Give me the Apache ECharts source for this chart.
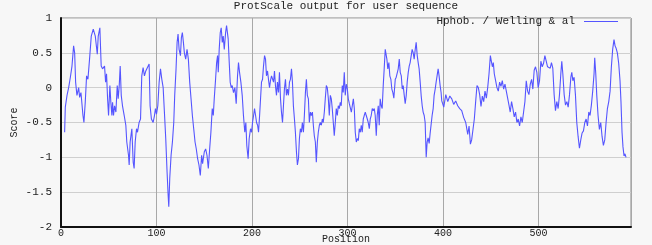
<!DOCTYPE html>
<html>
<head>
<meta charset="utf-8">
<script src="https://cdn.jsdelivr.net/npm/echarts@6/dist/echarts.min.js"></script>
<style>
html,body{margin:0;padding:0;background:#f7f7f7;}
#c{width:652px;height:245px;}
</style>
</head>
<body>
<div id="c"></div>
<script>
const chartTitle = 'ProtScale output for user sequence';
const seriesName = 'Hphob. / Welling & al';
const xTicks = [0, 100, 200, 300, 400, 500];
const yTicks = [-2, -1.5, -1, -0.5, 0, 0.5, 1];

const positions = [
3.8,4.5,6.3,8.0,9.8,11.5,13.2,14.3,15.3,16.7,18.5,19.5,20.9,23,24,25.4,26.8,28.2,29.9,31.7,33.8,35.9,38,39,40.7,42.1,43.5,45.6,46.7,
47.7,48.8,49.8,51.2,52.2,53.3,54,55,56.1,57.5,58.9,59.9,61,62,63.1,64.4,66.2,67.9,68.9,70.7,71.4,72.4,74.2,75.6,76.6,77.7,79.1,80.1,81.8,83.3,84.6,86,87.4,88.8,90.6,92.3,93.3,94.7,96.5,97.9,
98.9,100,101.4,102.8,104.2,105.6,107,108.3,109.7,111.1,112.2,112.9,113.9,115.3,116.7,118.1,119.1,120.5,121.6,122.6,123.7,125.1,126.1,127.1,128.2,129.2,130.6,132,133.4,134.8,136.2,137.6,139,140.4,141.7,143.1,144.5,145.9,147.3,
148.3,150.1,151.5,152.9,154.3,155.7,157,158.4,159.5,160.5,161.9,163,164,164.7,165.7,166.8,167.8,168.9,169.9,171,172.4,173.4,174.4,175.1,176.2,177.2,178.3,179.3,180.7,182.1,183.5,184.9,185.9,187,188.4,189.8,191.1,192.5,193.6,194.6,196,197.1,
198.5,199.6,200.6,201.7,202.7,203.8,204.8,205.9,206.9,208,209,210,211.1,212.1,213.2,214.2,215.2,216.3,217.3,218.4,219.4,220.5,221.5,222.6,223.6,224.6,225.7,226.7,227.8,228.8,229.9,230.9,232,233,234,235.1,236.1,237.2,238.2,239.3,240.3,241.4,242.4,243.4,244.5,245.5,246.6,247.6,248.7,
249.7,250.7,251.8,252.8,253.9,254.9,256,257,258,259.1,260.1,261.2,262.2,263.3,264.3,265.3,266.4,267.4,268.5,269.5,270.6,271.6,272.7,273.7,274.7,275.8,276.8,277.9,278.9,280,281,282.1,283.1,284.1,285.2,286.2,287.3,288.3,289.4,290.4,291.5,292.5,293.5,294.6,295.6,296.7,297.7,
298.8,299.9,300.9,302,303,304.1,305.1,306.2,307.2,308.2,309.3,310.3,311.4,312.4,313.5,314.5,315.5,316.6,317.6,318.7,319.7,320.8,321.8,322.9,323.9,324.9,326,327,328.1,329.1,330.2,331.2,332.3,333.3,334.3,335.4,336.4,337.5,338.5,339.6,340.3,341.3,342.3,343.4,344.4,345.5,346.5,347.6,
348.6,350.1,351.1,352.2,353.2,354.3,355.3,356.4,357.4,358.4,359.5,360.5,361.6,362.6,363.7,364.7,365.7,366.8,367.8,368.9,369.9,371,372,373.1,374.1,375.1,376.2,377.2,378.3,379.3,380.4,381.4,382.5,383.5,384.5,385.6,386.6,387.7,388.7,389.8,390.8,391.9,392.9,393.9,395,396,397.1,398.1,
398.8,400.9,403,405.1,407.2,409.3,411.3,413.4,415.5,417.6,419.7,421.8,423.9,426,427.4,428.8,430.1,431.5,432.9,434.3,435.7,437.1,438.5,439.9,441.3,442.7,444.1,445.5,446.9,448.3,449.7,450.7,451.8,452.8,453.8,455.2,456.6,458,459.4,460.8,462.2,463.6,465,466.4,467.8,469.2,470.5,471.9,473.3,474.7,476.1,477.5,478.9,480.3,481.7,483.1,484.5,485.9,487.3,488.7,490.1,491.5,492.9,494.2,495.6,497,498.4,499.8,501.2,502.6,504,505.4,506.8,508.2,509.6,511,512.4,513.7,515.1,516.5,517.9,519.3,520.7,522.1,523.5,524.5,525.6,527,528.4,529.8,531.2,532.6,534,535,536.1,537.4,538.8,540.2,541.6,543,544.4,545.8,547.2,548.6,550,551.4,552.8,554.1,555.5,556.9,558.3,559,560.1,561.1,562.5,563.9,565.3,566.7,568.1,569.5,570.9,572.3,573.7,575.1,576.4,577.8,579.2,580.3,581.3,582.7,584.1,585.5,586.5,587.6,588.6,589.7,590.7,591.8
];

const scores = [
-0.64,-0.28,-0.11,0,0.15,0.31,0.6,0.5,0.08,-0.11,0,-0.14,-0.07,-0.4,-0.5,-0.21,0.17,0.12,0.41,0.74,0.84,0.74,0.48,0.74,0.86,0.31,0.27,0.31,0.08,
0.2,-0.16,-0.4,0.03,-0.21,-0.4,-0.21,-0.4,-0.26,-0.35,0.03,-0.16,0.03,0.31,-0.11,-0.26,-0.4,-0.54,-0.78,-0.97,-1.11,-0.78,-0.59,-1.07,-1.16,-0.78,-0.59,-0.64,-0.5,-0.45,0.17,0.29,0.17,0.24,0.22,0.34,-0.26,-0.45,-0.5,-0.4,
-0.3,-0.38,-0.26,0.08,0.27,0.12,0,-0.35,-0.73,-1.21,-1.54,-1.71,-1.3,-0.97,-0.78,-0.5,-0.11,0.27,0.65,0.77,0.55,0.46,0.72,0.79,0.65,0.5,0.41,0.55,0.41,0.08,-0.16,-0.4,-0.59,-0.78,-0.88,-1.02,-1.11,-1.26,-0.97,
-1.09,-0.92,-0.88,-0.97,-1.16,-0.88,-0.64,-0.3,-0.4,-0.16,0.12,0.36,0.46,0.22,0.55,0.79,0.86,0.65,0.74,0.55,0.79,0.89,0.91,0.7,0.36,0.08,0,0.03,-0.07,0,-0.23,0.17,0.36,0.22,0.08,-0.11,-0.4,-0.64,-0.5,-0.83,-1.02,-0.73,
-0.59,-0.64,-0.5,-0.4,-0.3,-0.4,-0.5,-0.54,-0.64,-0.4,-0.16,0.08,0.12,0.31,0.46,0.41,0.17,0.24,0.12,0,0.1,0.17,0.19,0.08,0.24,0.03,-0.11,0.08,-0.07,0.22,-0.16,-0.35,-0.5,-0.26,-0.02,0.12,-0.11,-0.02,-0.11,0.08,0.12,0.27,0.08,-0.26,-0.45,-0.64,-0.92,-1.11,-1.02,
-0.73,-0.59,-0.64,-0.5,-0.64,-0.4,-0.07,0.12,-0.11,-0.16,-0.5,-0.35,-0.4,-0.35,-0.54,-0.69,-0.78,-1.07,-0.78,-0.64,-0.54,-0.5,-0.54,-0.45,-0.5,-0.35,-0.16,0.03,0,-0.16,-0.4,-0.11,-0.16,-0.3,-0.5,-0.69,-0.5,-0.3,-0.4,-0.26,-0.3,-0.21,-0.26,0.03,-0.07,0.22,-0.11,
0.05,-0.02,-0.16,-0.23,-0.21,-0.35,-0.26,-0.16,-0.3,-0.64,-0.78,-0.73,-0.76,-0.59,-0.64,-0.54,-0.64,-0.45,-0.4,-0.35,-0.4,-0.45,-0.5,-0.59,-0.45,-0.4,-0.3,-0.33,-0.3,-0.4,-0.69,-0.4,-0.26,-0.54,-0.16,-0.26,-0.3,0.03,0.27,0.55,0.55,0.41,0.27,0.36,0.17,0.12,-0.02,-0.07,
-0.15,0.12,0.15,0.17,0.27,0.41,0.22,0.17,-0.02,0.03,-0.11,-0.23,-0.11,0.08,0.22,0.31,0.36,0.46,0.55,0.5,0.41,0.55,0.65,0.46,0.36,0.27,0.08,-0.11,-0.26,-0.35,-0.4,-0.5,-1.0,-0.78,-0.72,-0.8,-0.66,-0.64,-0.4,-0.3,-0.11,-0.02,0.08,0.17,0.27,0.17,0.03,-0.07,
-0.19,-0.28,-0.1,-0.2,-0.12,-0.16,-0.24,-0.19,-0.26,-0.3,-0.33,-0.43,-0.5,-0.67,-0.55,-0.81,-0.75,-0.6,-0.45,-0.2,0.03,0,-0.1,-0.27,-0.12,-0.2,-0.05,-0.15,0,0.2,0.46,0.38,0.3,0.36,0.2,0.1,0,-0.05,0.08,0.02,0.1,-0.02,0.05,-0.05,-0.15,-0.25,-0.35,-0.2,-0.3,-0.42,-0.35,-0.5,-0.45,-0.55,-0.42,-0.5,-0.35,-0.2,0.1,-0.05,-0.1,0.05,0.12,-0.02,0.25,0.3,0.22,0,0.1,0.38,0.3,0.35,0.46,0.38,0.3,0.32,0.28,0.36,0.28,-0.1,-0.33,-0.2,-0.3,-0.1,0.2,0.38,0.2,-0.1,-0.25,-0.2,-0.28,-0.1,0.15,0.22,0.1,0.15,-0.1,-0.5,-0.7,-0.87,-0.75,-0.65,-0.62,-0.5,-0.45,-0.55,-0.35,-0.4,-0.25,-0.05,0.2,0.43,0.2,-0.1,-0.4,-0.6,-0.5,-0.7,-0.83,-0.75,-0.5,-0.3,-0.2,-0.05,0.29,0.55,0.69,0.6,0.57,0.5,0.35,0.1,-0.2,-0.64,-0.85,-0.98,-0.95,-1.0
];

const FONT = 'Liberation Mono';
const chart = echarts.init(document.getElementById('c'), null, {renderer: 'canvas'});
const option = {
  animation: false,
  backgroundColor: '#f7f7f7',
  title: {
    text: chartTitle,
    left: 346, top: 1, textAlign: 'center', padding: 0,
    textStyle: {fontFamily: FONT, fontSize: 11, fontWeight: 'normal', color: '#222'}
  },
  legend: {
    right: 34, top: 16, padding: 0,
    align: 'right',
    icon: 'rect', itemWidth: 34, itemHeight: 1, itemGap: 9,
    textStyle: {fontFamily: FONT, fontSize: 11, color: '#222', padding: [0, 4, 0, 0]},
    data: [seriesName]
  },
  grid: {left: 61, right: 21, top: 18, bottom: 18, outerBoundsMode: 'none', containLabel: false,
    show: true, borderColor: '#888', borderWidth: 1, backgroundColor: 'transparent'},
  xAxis: {
    type: 'value', min: 0, max: 597, interval: 100,
    name: 'Position', nameLocation: 'middle', nameGap: 7, nameMoveOverlap: false,
    nameTextStyle: {fontFamily: FONT, fontSize: 10, color: '#222', lineHeight: 11},
    axisLine: {show: true, onZero: false, lineStyle: {color: '#111', width: 2}},
    axisTick: {show: false},
    axisLabel: {fontFamily: FONT, fontSize: 10, color: '#222', margin: 1, showMaxLabel: false,
      formatter: v => xTicks.includes(v) ? String(v) : ''},
    splitLine: {show: true, lineStyle: {color: '#a8a8a8', width: 1}}
  },
  yAxis: {
    type: 'value', min: -2, max: 1, interval: 0.5,
    name: 'Score', nameLocation: 'middle', nameGap: 42, nameRotate: 90, nameMoveOverlap: false,
    nameTextStyle: {fontFamily: FONT, fontSize: 10, color: '#222'},
    axisLine: {show: true, lineStyle: {color: '#111', width: 2}},
    axisTick: {show: false},
    axisLabel: {fontFamily: FONT, fontSize: 11, color: '#222', margin: 9,
      formatter: v => yTicks.includes(v) ? String(v) : ''},
    splitLine: {show: true, lineStyle: {color: '#cfcfcf', width: 1}}
  },
  series: [{
    name: seriesName,
    type: 'line',
    data: positions.map((p, i) => [p, scores[i]]),
    showSymbol: false,
    color: '#5555ff',
    lineStyle: {color: '#5555ff', width: 1.1},
    z: 3
  }]
};
chart.setOption(option);
</script>
</body>
</html>
